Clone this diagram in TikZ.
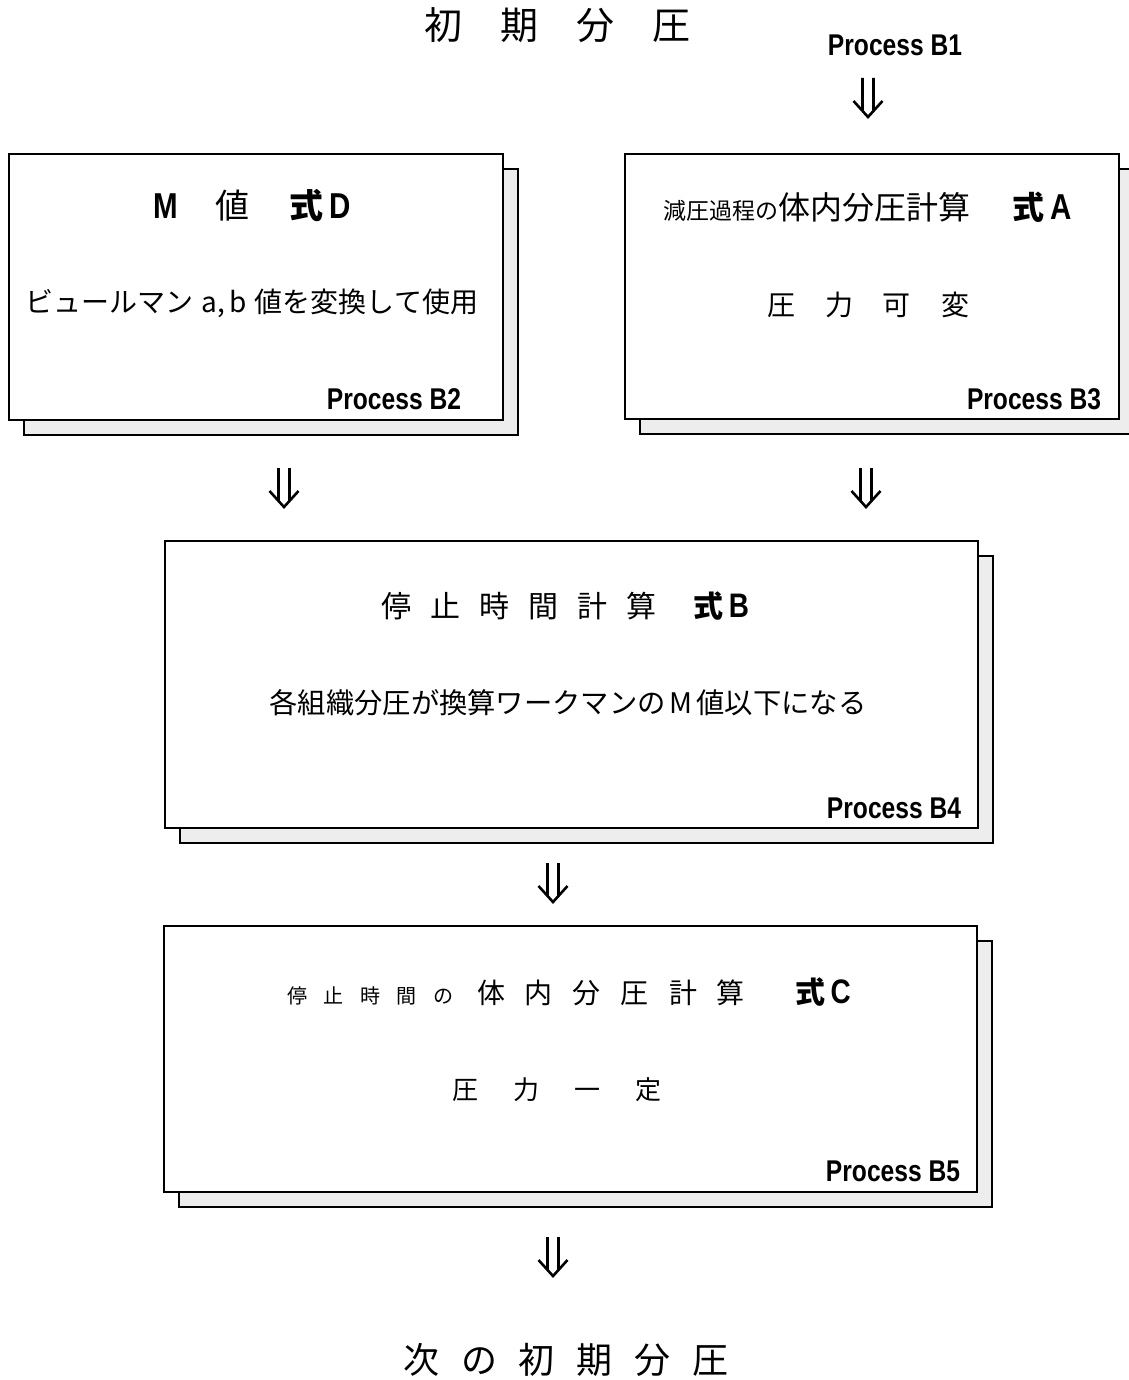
\documentclass[tikz,border=0pt]{standalone}
\usepackage{fontspec}
\setmainfont{Noto Sans CJK JP}
\newfontfamily\procfont[FakeStretch=0.82]{Liberation Sans}
\newcommand\myfs[1]{\fontsize{#1}{#1}\selectfont}
\tikzset{
  every node/.style={inner sep=0pt, outer sep=0pt},
  mainbox/.style={draw=black, line width=1.4pt, fill=white},
  shadowbox/.style={draw=black, line width=1.1pt, fill=black!7},
  proc/.style={font=\procfont\bfseries\myfs{30}, anchor=east},
  dbl/.style={line width=2.6pt, line join=miter,
    to path={([xshift=-5.5pt]\tikztostart) -- ([xshift=-5.5pt,yshift=7pt]\tikztotarget)
             ([xshift=5.5pt]\tikztostart) -- ([xshift=5.5pt,yshift=7pt]\tikztotarget)
             ([xshift=-14.5pt,yshift=16pt]\tikztotarget) -- (\tikztotarget) -- ([xshift=14.5pt,yshift=16pt]\tikztotarget)}},
}
\begin{document}
\begin{tikzpicture}[x=1pt,y=-1pt]
\useasboundingbox (0,0) rectangle (1128,1380);

% shadows
\node[shadowbox, minimum width=494pt, minimum height=266pt, anchor=north west] (b2s) at (24,169) {};
\node[shadowbox, minimum width=494pt, minimum height=265pt, anchor=north west] (b3s) at (640,169) {};
\node[shadowbox, minimum width=813pt, minimum height=287pt, anchor=north west] (b4s) at (180,556) {};
\node[shadowbox, minimum width=813pt, minimum height=266pt, anchor=north west] (b5s) at (179,941) {};

% main boxes
\node[mainbox, minimum width=494pt, minimum height=266pt, anchor=north west] (b2) at (9,154) {};
\node[mainbox, minimum width=494pt, minimum height=265pt, anchor=north west] (b3) at (625,154) {};
\node[mainbox, minimum width=813pt, minimum height=287pt, anchor=north west] (b4) at (165,541) {};
\node[mainbox, minimum width=813pt, minimum height=266pt, anchor=north west] (b5) at (164,926) {};

% top
\node[font=\myfs{38}] (t0) at (557,25) {初\hspace{38pt}期\hspace{38pt}分\hspace{38pt}圧};
\node[proc] (p1) at (962,45) {Process B1};

% B2
\node (b2t) at (252,206) {\myfs{34}{\procfont\bfseries\myfs{36}M}\hspace{38pt}値\hspace{40pt}{\bfseries 式}{\procfont\bfseries\myfs{36}\,D}};
\node[font=\myfs{28}] (b2b) at (252,303) {ビュールマン\hspace{8pt}a,\hspace{4pt}b\hspace{8pt}値を変換して使用};
\node[proc] (p2) at (461,399) {Process B2};

% B3
\node[anchor=west] (b3t) at (663,207) {{\myfs{23}減圧過程の}{\myfs{32}体内分圧計算}\hspace{42pt}{\myfs{32}\bfseries 式}{\procfont\bfseries\myfs{36}\,A}};
\node[font=\myfs{28}] (b3b) at (868,305) {圧\hspace{30pt}力\hspace{30pt}可\hspace{30pt}変};
\node[proc] (p3) at (1101,399) {Process B3};

% B4
\node (b4t) at (565,606) {\myfs{30}停\hspace{19pt}止\hspace{19pt}時\hspace{19pt}間\hspace{19pt}計\hspace{19pt}算\hspace{37pt}{\bfseries 式}{\procfont\bfseries\myfs{34}\,B}};
\node[font=\myfs{28.3}] (b4b) at (568,703) {各組織分圧が換算ワークマンの\hspace{4pt}M\hspace{4pt}値以下になる};
\node[proc] (p4) at (961,808) {Process B4};

% B5
\node[anchor=west] (b5t) at (287,992) {{\myfs{20}停\hspace{16.5pt}止\hspace{16.5pt}時\hspace{16.5pt}間\hspace{16.5pt}の}\hspace{24pt}{\myfs{28}体\hspace{20pt}内\hspace{20pt}分\hspace{20pt}圧\hspace{20pt}計\hspace{20pt}算}\hspace{50pt}{\myfs{30}\bfseries 式}{\procfont\bfseries\myfs{34}\,C}};
\node[font=\myfs{26}] (b5b) at (557,1090) {圧\hspace{35pt}力\hspace{35pt}一\hspace{35pt}定};
\node[proc] (p5) at (960,1171) {Process B5};

% bottom
\node[font=\myfs{36}] (tn) at (566,1360) {次\hspace{22pt}の\hspace{22pt}初\hspace{22pt}期\hspace{22pt}分\hspace{22pt}圧};

% arrows
\coordinate (a1s) at (868,78);  \coordinate (a1e) at (868,117);
\coordinate (a2s) at (284,468); \coordinate (a2e) at (284,507);
\coordinate (a3s) at (866,468); \coordinate (a3e) at (866,507);
\coordinate (a4s) at (553,863); \coordinate (a4e) at (553,902);
\coordinate (a5s) at (553,1237); \coordinate (a5e) at (553,1276);
\draw[dbl] (a1s) to (a1e);
\draw[dbl] (a2s) to (a2e);
\draw[dbl] (a3s) to (a3e);
\draw[dbl] (a4s) to (a4e);
\draw[dbl] (a5s) to (a5e);
\end{tikzpicture}
\end{document}
